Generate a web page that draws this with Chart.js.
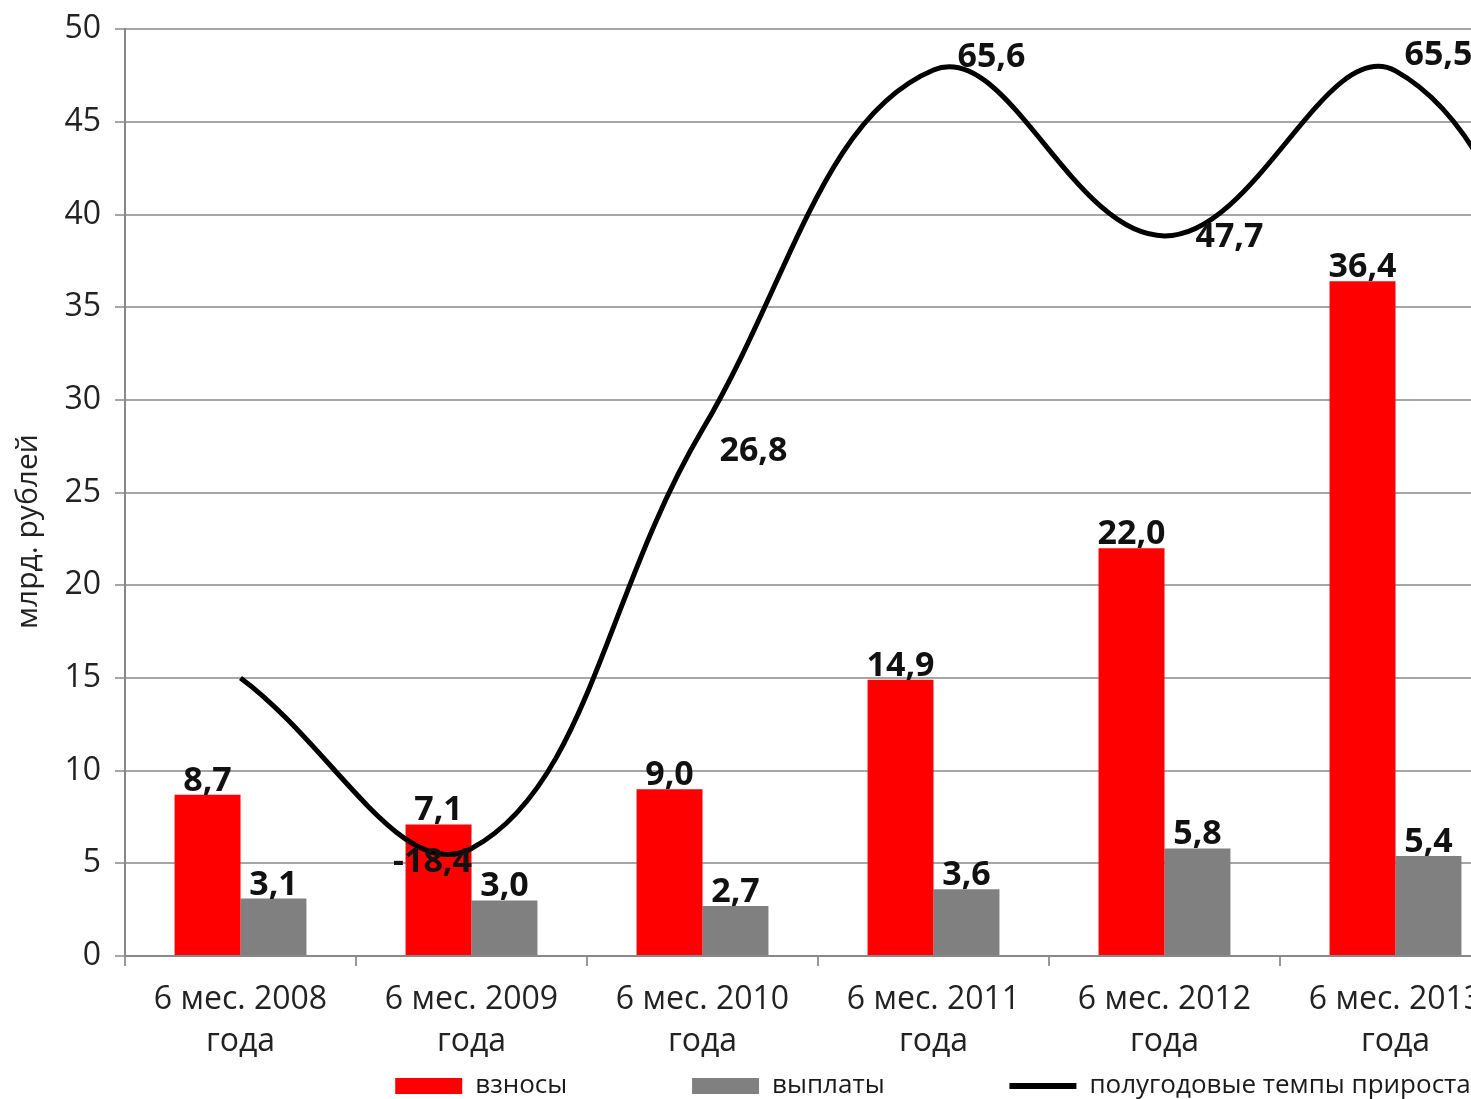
<!DOCTYPE html>
<html>
<head>
<meta charset="utf-8">
<script src="https://cdn.jsdelivr.net/npm/chart.js@4.4.1/dist/chart.umd.min.js"></script>
<style>
  html, body { margin: 0; padding: 0; background: #fff; overflow: hidden; }
  canvas { display: block; }
</style>
</head>
<body>
<canvas id="vznosyChart" width="1866" height="1099" style="width:1866px;height:1099px"></canvas>
<script>
// categories (the last one is outside the visible crop, only the line reaches it)
var categories = [
    ['6 мес. 2008', 'года'],
    ['6 мес. 2009', 'года'],
    ['6 мес. 2010', 'года'],
    ['6 мес. 2011', 'года'],
    ['6 мес. 2012', 'года'],
    ['6 мес. 2013', 'года'],
    ['6 мес. 2014', 'года']
];
var vznosy = [8.7, 7.1, 9.0, 14.9, 22.0, 36.4, null];
var vyplaty = [3.1, 3.0, 2.7, 3.6, 5.8, 5.4, null];
// полугодовые темпы прироста, %
var tempy = [0, -18.4, 26.8, 65.6, 47.7, 65.5, 20];
var tempyLabeled = [false, true, true, true, true, true, false];
var yTicks = [0, 5, 10, 15, 20, 25, 30, 35, 40, 45, 50];

// where the growth labels sit relative to their point (text centre)
var lineLabelOffsets = [[0, 0], [-39, 14], [51, 22], [58, -13], [65, 1], [43, -16], [0, 0]];

Chart.defaults.font.family = '"Open Sans", sans-serif';
Chart.defaults.color = '#222';

var valueLabels = {
    id: 'valueLabels',
    afterDatasetsDraw: function (chart) {
        var ctx = chart.ctx;
        ctx.save();
        ctx.font = 'bold 34px "Open Sans", sans-serif';
        ctx.fillStyle = '#111';
        ctx.textAlign = 'center';
        chart.data.datasets.forEach(function (ds, di) {
            var meta = chart.getDatasetMeta(di);
            meta.data.forEach(function (el, i) {
                var v = ds.data[i];
                if (v === null || v === undefined) return;
                var txt = v.toFixed(1).replace('.', ',');
                if (ds.type === 'line') {
                    if (!tempyLabeled[i]) return;
                    ctx.textBaseline = 'middle';
                    ctx.fillText(txt, el.x + lineLabelOffsets[i][0], el.y + lineLabelOffsets[i][1]);
                } else {
                    ctx.textBaseline = 'alphabetic';
                    ctx.fillText(txt, el.x, el.y - 4);
                }
            });
        });
        ctx.restore();
    }
};

var gap = '\u00a0'.repeat(17);

var ctx = document.getElementById('vznosyChart').getContext('2d');
var vznosyChart = new Chart(ctx, {
    type: 'bar',
    data: {
        labels: categories,
        datasets: [
            {
                label: 'взносы',
                backgroundColor: '#ff0000',
                data: vznosy,
                order: 1
            },
            {
                label: 'выплаты',
                backgroundColor: '#808080',
                data: vyplaty,
                order: 1
            },
            {
                type: 'line',
                label: 'полугодовые темпы прироста',
                borderColor: '#000',
                backgroundColor: '#000',
                borderWidth: 5,
                pointRadius: 0,
                tension: 0.4,
                fill: false,
                yAxisID: 'y1',
                data: tempy,
                order: 0
            }
        ]
    },
    options: {
        responsive: false,
        animation: false,
        devicePixelRatio: 1,
        layout: { padding: { top: 0, left: 0, right: 0, bottom: 0 } },
        datasets: {
            bar: { categoryPercentage: 0.571, barPercentage: 1.0 }
        },
        scales: {
            x: {
                afterFit: function (s) { s.height = 107; },
                grid: {
                    offset: true,
                    drawOnChartArea: false,
                    drawTicks: true,
                    tickLength: 10,
                    color: '#999',
                    lineWidth: 2
                },
                border: { color: '#888', width: 2 },
                ticks: {
                    font: { size: 32, lineHeight: 1.3 },
                    color: '#222',
                    padding: 13,
                    maxRotation: 0,
                    autoSkip: false
                }
            },
            y: {
                min: 0,
                max: 50,
                afterBuildTicks: function (s) {
                    s.ticks = yTicks.map(function (v) { return { value: v }; });
                },
                afterFit: function (s) { s.width = 125; },
                grid: { color: '#a6a6a6', lineWidth: 2, tickLength: 10 },
                border: { color: '#888', width: 2 },
                ticks: { font: { size: 32, lineHeight: 0.95 }, color: '#222', padding: 14 },
                title: {
                    display: true,
                    text: 'млрд. рублей' + '\u00a0'.repeat(10),
                    font: { size: 30 },
                    color: '#222',
                    padding: { top: 10, bottom: 0 }
                }
            },
            y1: {
                position: 'right',
                min: -30,
                max: 70,
                grid: { display: false },
                border: { display: false },
                ticks: { display: false },
                afterFit: function (s) { s.width = 124; }
            }
        },
        plugins: {
            tooltip: { enabled: false },
            legend: {
                position: 'bottom',
                maxHeight: 36,
                labels: {
                    usePointStyle: true,
                    pointStyleWidth: 67,
                    boxHeight: 16,
                    padding: 10,
                    color: '#1a1a1a',
                    font: { size: 26 },
                    generateLabels: function (chart) {
                        var items = Chart.defaults.plugins.legend.labels.generateLabels(chart);
                        items.sort(function (a, b) { return a.datasetIndex - b.datasetIndex; });
                        items.forEach(function (it) {
                            var ds = chart.data.datasets[it.datasetIndex];
                            if (ds.type === 'line') {
                                it.pointStyle = 'line';
                                it.lineWidth = 6;
                            } else {
                                it.pointStyle = 'rect';
                                it.text = it.text + gap;
                            }
                        });
                        return items;
                    }
                }
            }
        }
    },
    plugins: [valueLabels]
});
</script>
</body>
</html>
